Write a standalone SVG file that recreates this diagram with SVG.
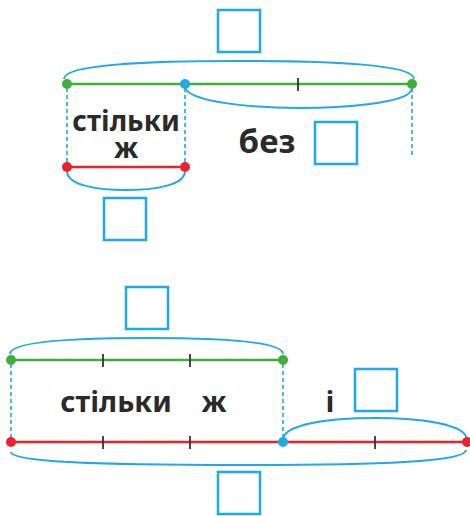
<svg xmlns="http://www.w3.org/2000/svg" width="470" height="516" viewBox="0 0 470 516">
<style>
.box{fill:none;stroke:#1fa9e6;stroke-width:2.5}
.brace{fill:none;stroke:#1fa9e6;stroke-width:2}
.dash{fill:none;stroke:#1fa9e6;stroke-width:1.6;stroke-dasharray:4 3}
.g{stroke:#3fae3a;stroke-width:2.6}
.r{stroke:#e8232d;stroke-width:2.6}
.tick{stroke:#333;stroke-width:1.8}
.dg{fill:#3fae3a}.dr{fill:#e8232d}.db{fill:#1fa9e6}
.t{font-family:"Noto Sans","Open Sans","DejaVu Sans",sans-serif;font-weight:bold;fill:#2a2a2a}
</style>
<rect width="470" height="516" fill="#fff"/>
<g id="connectors">
<path class="brace" d="M64,79 C64,64 150,61 239,61 C328,61 414,64 414,79"/>
<path class="brace" d="M185,86 C185,103 260,108 299,108 C338,108 412,104 412,88"/>
<path class="brace" d="M67,171 C67,186 100,190 126,190 C152,190 185,186 185,171"/>
<line class="dash" x1="67" y1="88" x2="67" y2="163"/>
<line class="dash" x1="185" y1="88" x2="185" y2="163"/>
<line class="dash" x1="412" y1="88" x2="412" y2="158"/>
<path class="brace" d="M10,354 C10,341 80,338 147,338 C214,338 283,341 283,354"/>
<path class="brace" d="M283,440 C283,424 330,418 375,418 C420,418 467,424 467,440"/>
<path class="brace" d="M11,452 C11,462 100,465 239,465 C378,465 466,462 466,450"/>
<line class="dash" x1="11" y1="364" x2="11" y2="438"/>
<line class="dash" x1="283" y1="364" x2="283" y2="438"/>
</g>
<g id="top-line">
<line class="g" x1="67" y1="84" x2="412" y2="84"/>
<line class="tick" x1="298" y1="78" x2="298" y2="91"/>
<circle class="dg" cx="67" cy="84" r="5"/>
<circle class="db" cx="185" cy="84" r="5"/>
<circle class="dg" cx="412" cy="84" r="5"/>
</g>
<g id="top-red">
<line class="r" x1="67" y1="167" x2="185" y2="167"/>
<circle class="dr" cx="67" cy="167" r="5"/>
<circle class="dr" cx="185" cy="167" r="5"/>
</g>
<g id="top-labels">
<rect class="box" x="218" y="10" width="42" height="42"/>
<rect class="box" x="315" y="122" width="42" height="42"/>
<rect class="box" x="104" y="198" width="42" height="42"/>
<text class="t" font-size="28" text-anchor="middle"><tspan x="126" y="131">стільки</tspan><tspan x="126" y="158">ж</tspan></text>
<text class="t" x="267" y="153" font-size="33" text-anchor="middle">без</text>
</g>
<g id="bottom-green">
<line class="g" x1="11" y1="360" x2="283" y2="360"/>
<line class="tick" x1="103" y1="354" x2="103" y2="367"/>
<line class="tick" x1="190" y1="354" x2="190" y2="367"/>
<circle class="dg" cx="11" cy="360" r="5"/>
<circle class="dg" cx="283" cy="360" r="5"/>
</g>
<g id="bottom-red">
<line class="r" x1="11" y1="442" x2="467" y2="442"/>
<line class="tick" x1="103" y1="436" x2="103" y2="449"/>
<line class="tick" x1="190" y1="436" x2="190" y2="449"/>
<line class="tick" x1="375" y1="436" x2="375" y2="449"/>
<circle class="dr" cx="11" cy="442" r="5"/>
<circle class="db" cx="283" cy="442" r="5"/>
<circle class="dr" cx="467" cy="442" r="5"/>
</g>
<g id="bottom-labels">
<rect class="box" x="126" y="287" width="42" height="42"/>
<rect class="box" x="355" y="369" width="42" height="42"/>
<rect class="box" x="218" y="472" width="42" height="42"/>
<text class="t" font-size="29" text-anchor="middle"><tspan x="116" y="412">стільки</tspan><tspan x="214" y="412">ж</tspan></text>
<text class="t" x="330" y="412" font-size="29" text-anchor="middle">і</text>
</g>
</svg>
